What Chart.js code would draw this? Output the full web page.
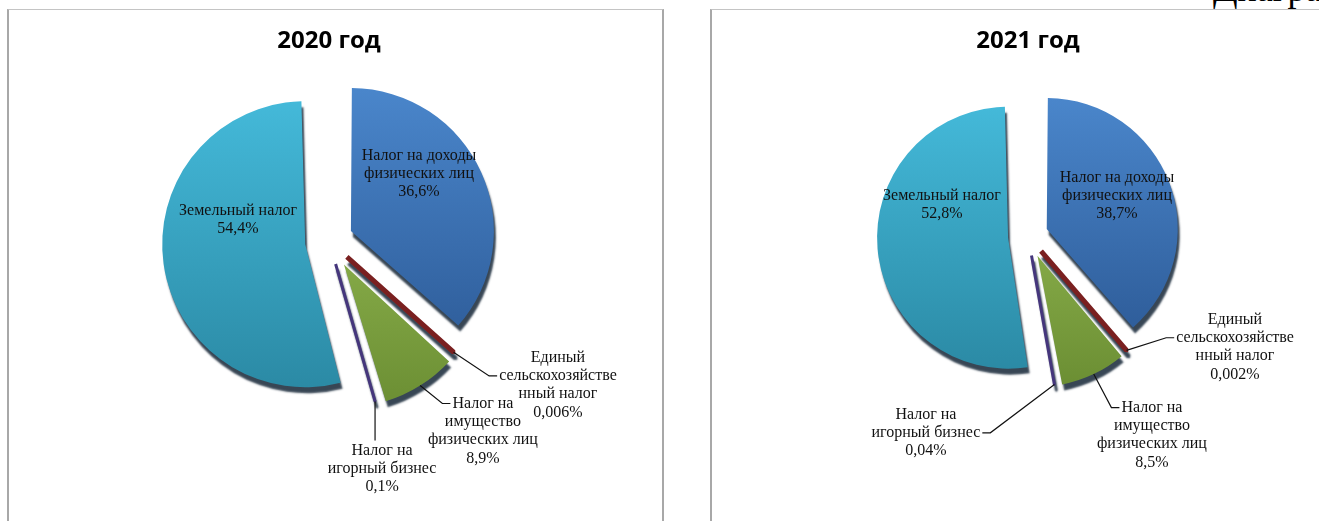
<!DOCTYPE html>
<html lang="ru">
<head>
<meta charset="utf-8">
<script src="https://cdn.jsdelivr.net/npm/chart.js@4.4.1/dist/chart.umd.min.js"></script>
<style>
  html, body { margin: 0; padding: 0; background: #fff; overflow: hidden; width: 1319px; height: 521px; }
  .frame { position: absolute; top: 9px; height: 560px; box-sizing: border-box;
           border-top: 1px solid #c4c4c4; border-left: 2px solid #a8a8a8; border-right: 2px solid #a8a8a8; }
  #frame2020 { left: 7px; width: 657px; }
  #frame2021 { left: 710px; width: 700px; }
  canvas { position: absolute; }
  #pie2020 { left: 9px; top: 10px; }
  #pie2021 { left: 713px; top: 10px; }
  #caption { position: absolute; left: 1213px; top: -29px; font: 36px/36px "Liberation Serif", serif; white-space: nowrap; color: #000; }
</style>
</head>
<body>
<div id="caption">Диаграмма</div>
<div class="frame" id="frame2020"></div>
<div class="frame" id="frame2021"></div>
<canvas id="pie2020" width="640" height="520"></canvas>
<canvas id="pie2021" width="630" height="520"></canvas>
<script>
// Категории (с переносами строк, как в подписях исходной диаграммы)
const categories = [
    ['Налог на доходы', 'физических лиц'],
    ['Единый', 'сельскохозяйстве', 'нный налог'],
    ['Налог на', 'имущество', 'физических лиц'],
    ['Налог на', 'игорный бизнес'],
    ['Земельный налог']
];
const values2020 = [36.6, 0.006, 8.9, 0.1, 54.4];
const values2021 = [38.7, 0.002, 8.5, 0.04, 52.8];
const titles = ['2020 год', '2021 год'];

// Цвета долей: верх и низ градиента
const sliceTop = ['#4a86cb', '#7a2020', '#9dc35a', '#45367c', '#44b9d9'];
const sliceBottom = ['#2b5894', '#561212', '#6b8e33', '#2a1e52', '#2b8aa5'];
const sliceBorder = [0, 5, 0, 3, 0];

// Размещение подписей: угол от 12 часов по часовой, расстояние в радиусах, куда тянуть выноску
const layout2020 = [
    { angle: 53.3, dist: 0.785 },
    { angle: 122.2, dist: 1.892, attach: 'left', line: 1 },
    { angle: 141, dist: 1.71, attach: 'left', line: 0 },
    { angle: 166.9, dist: 1.637, attach: 'top' },
    { angle: 283, dist: 0.653 }
];
const layout2021 = [
    { angle: 65.8, dist: 0.745 },
    { angle: 118.2, dist: 1.793, attach: 'left', line: 1 },
    { angle: 148.1, dist: 1.79, attach: 'left', line: 0 },
    { angle: 207.4, dist: 1.693, attach: 'right', line: 1 },
    { angle: 289.8, dist: 0.698 }
];

function sliceFill(context) {
    const i = context.dataIndex;
    const area = context.chart.chartArea;
    if (!area) return sliceTop[i];
    const cy = (area.top + area.bottom) / 2;
    const r = context.chart.options.radius;
    const g = context.chart.ctx.createLinearGradient(0, cy - r, 0, cy + r);
    g.addColorStop(0, sliceTop[i]);
    g.addColorStop(1, sliceBottom[i]);
    return g;
}

const shadowPlugin = {
    id: 'sliceShadow',
    beforeDatasetsDraw(chart) {
        const ctx = chart.ctx;
        ctx.save();
        ctx.shadowColor = 'rgba(6, 24, 42, 0.8)';
        ctx.shadowBlur = 2;
        ctx.shadowOffsetX = 2;
        ctx.shadowOffsetY = 6;
    },
    afterDatasetsDraw(chart) {
        chart.ctx.restore();
    }
};

const labelPlugin = {
    id: 'sliceLabels',
    afterDatasetUpdate(chart, args) {
        // Chart.js удлиняет радиус вынесенных долей — возвращаем всем общий радиус
        args.meta.data.forEach(arc => {
            const shift = (arc.options.offset || 0) / 4;
            const fix = 1 - Math.sin(Math.min(Math.PI, arc.circumference));
            arc.outerRadius -= shift * fix;
        });
    },
    afterDraw(chart, args, opts) {
        const ctx = chart.ctx;
        const meta = chart.getDatasetMeta(0);
        const R = chart.options.radius;
        const lh = 18.3;
        ctx.save();
        ctx.font = '16px "Liberation Serif"';
        ctx.textAlign = 'center';
        ctx.textBaseline = 'middle';
        ctx.fillStyle = '#111';
        ctx.strokeStyle = '#111';
        ctx.lineWidth = 1.2;
        meta.data.forEach((arc, i) => {
            const place = opts.layout[i];
            const a = (place.angle - 90) * Math.PI / 180;
            const bx = arc.x + Math.cos(a) * place.dist * R;
            const by = arc.y + Math.sin(a) * place.dist * R;
            const value = chart.data.datasets[0].data[i];
            const lines = [].concat(chart.data.labels[i], String(value).replace('.', ',') + '%');
            const y0 = by - (lines.length - 1) * lh / 2;
            lines.forEach((t, k) => ctx.fillText(t, bx, y0 + k * lh));
            if (!place.attach) return;

            const mid = (arc.startAngle + arc.endAngle) / 2;
            const reach = (arc.options.offset || 0) / 4 + R;
            const ax = arc.x + Math.cos(mid) * reach;
            const ay = arc.y + Math.sin(mid) * reach;
            ctx.beginPath();
            ctx.moveTo(ax, ay);
            if (place.attach === 'top') {
                ctx.lineTo(ax, y0 - lh / 2 - 1);
            } else {
                const ly = y0 + place.line * lh;
                const w = ctx.measureText(lines[place.line]).width;
                const side = place.attach === 'left' ? -1 : 1;
                const edge = bx + side * (w / 2 + 2);
                ctx.lineTo(edge + side * 8, ly);
                ctx.lineTo(edge, ly);
            }
            ctx.stroke();
        });
        ctx.restore();
    }
};

function drawPie(id, title, values, radius, shifts, layout, padBottom) {
    return new Chart(document.getElementById(id), {
        type: 'pie',
        data: {
            labels: categories,
            datasets: [{
                data: values,
                backgroundColor: sliceFill,
                borderColor: sliceTop,
                borderWidth: sliceBorder,
                offset: shifts.map(s => s * 4),
                hoverOffset: 0,
                clip: false
            }]
        },
        options: {
            responsive: false,
            animation: false,
            events: [],
            radius: radius,
            layout: { padding: { bottom: padBottom } },
            plugins: {
                legend: { display: false },
                tooltip: { enabled: false },
                title: {
                    display: true,
                    text: title,
                    color: '#000',
                    font: { family: 'Open Sans', size: 24, weight: 'bold' },
                    padding: { top: 17, bottom: 10 }
                },
                sliceLabels: { layout: layout }
            }
        },
        plugins: [shadowPlugin, labelPlugin]
    });
}

drawPie('pie2020', titles[0], values2020, 143, [24, 24, 28, 24, 24], layout2020, 114);
drawPie('pie2021', titles[1], values2021, 131, [20, 20, 22, 20, 20], layout2021, 124);
</script>
</body>
</html>
